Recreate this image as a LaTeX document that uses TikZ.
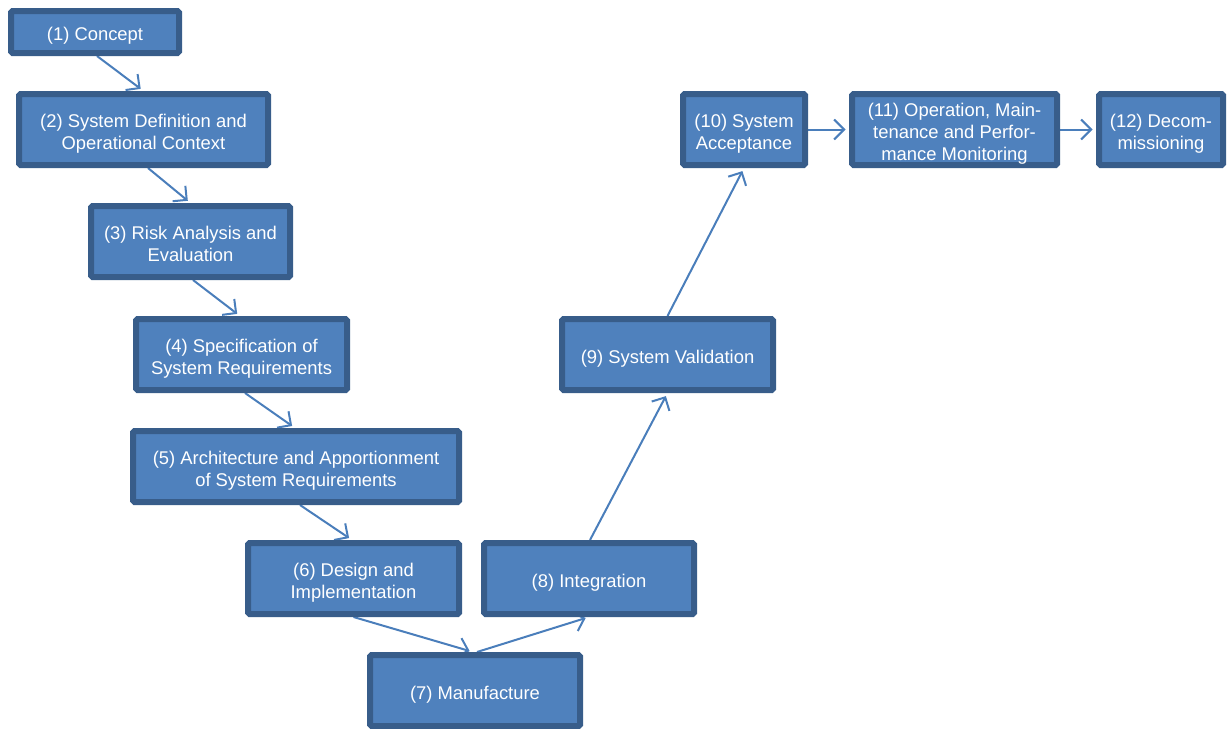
\documentclass[tikz,border=0pt]{standalone}
\usepackage{fontspec}
\setmainfont{Liberation Sans}
\usetikzlibrary{arrows.meta,backgrounds}
\definecolor{boxfill}{HTML}{4F81BD}
\definecolor{boxline}{HTML}{385D8A}
\definecolor{arrowc}{HTML}{4A7EBB}
% centred lines of a stage label, set slightly below the box centre
\newcommand\stagetext[1]{\raisebox{-4.2pt}[\height][\depth]{\begin{tabular}{@{}c@{}}#1\end{tabular}}}
\begin{document}
\begin{tikzpicture}[x=1pt,y=-1pt,
  stage/.style={draw=boxline, fill=boxfill, line width=6pt, rounded corners=1.5pt,
    text=white, inner sep=0pt, minimum height=71pt,
    font=\fontsize{18.4}{22}\selectfont},
  flow/.style={draw=arrowc, line width=2pt, shorten >=3.5pt,
    -{Straight Barb[length=10pt,width=20pt]}}]
\useasboundingbox (0,0) rectangle (1228,728);

% descending branch
\node[stage, minimum width=168pt, minimum height=42pt] (n1) at (95,32) {\stagetext{(1) Concept}};
\node[stage, minimum width=249pt] (n2) at (143.5,129.5) {\stagetext{(2) System Definition and\\Operational Context}};
\node[stage, minimum width=199pt] (n3) at (190.5,241.5) {\stagetext{(3) Risk Analysis and\\Evaluation}};
\node[stage, minimum width=211pt] (n4) at (241.5,354.5) {\stagetext{(4) Specification of\\System Requirements}};
\node[stage, minimum width=326pt] (n5) at (296,466.5) {\stagetext{(5) Architecture and Apportionment\\of System Requirements}};
\node[stage, minimum width=211pt] (n6) at (353.5,578.5) {\stagetext{(6) Design and\\Implementation}};
% bottom
\node[stage, minimum width=210pt] (n7) at (475,690.5) {\stagetext{(7) Manufacture}};
% ascending branch
\node[stage, minimum width=210pt] (n8) at (589,578.5) {\stagetext{(8) Integration}};
\node[stage, minimum width=211pt] (n9) at (667.5,354.5) {\stagetext{(9) System Validation}};
\node[stage, minimum width=122pt] (n10) at (744,129.5) {\stagetext{(10) System\\Acceptance}};
\node[stage, minimum width=205pt] (n11) at (954.5,129.5) {\stagetext{(11) Operation, Main-\\tenance and Perfor-\\mance Monitoring}};
\node[stage, minimum width=124pt] (n12) at (1161,129.5) {\stagetext{(12) Decom-\\missioning}};

\begin{scope}[on background layer]
  \draw[flow] ([xshift=2]n1.south) -- (n2.north);
  \draw[flow] ([xshift=4.5]n2.south) -- (n3.north);
  \draw[flow] ([xshift=2.5]n3.south) -- ([xshift=-1.5]n4.north);
  \draw[flow] ([xshift=3.5]n4.south) -- ([xshift=-1]n5.north);
  \draw[flow] ([xshift=4]n5.south) -- ([xshift=-1.5]n6.north);
  \draw[flow] ([xshift=0]n6.south) -- ([xshift=-2]n7.north);
  \draw[flow] ([xshift=2]n7.north) -- (n8.south);
  \draw[flow] ([xshift=1]n8.north) -- (n9.south);
  \draw[flow] (n9.north) -- (n10.south);
  \draw[flow] (n10.east) -- (n11.west);
  \draw[flow] (n11.east) -- (n12.west);
\end{scope}
\end{tikzpicture}
\end{document}
